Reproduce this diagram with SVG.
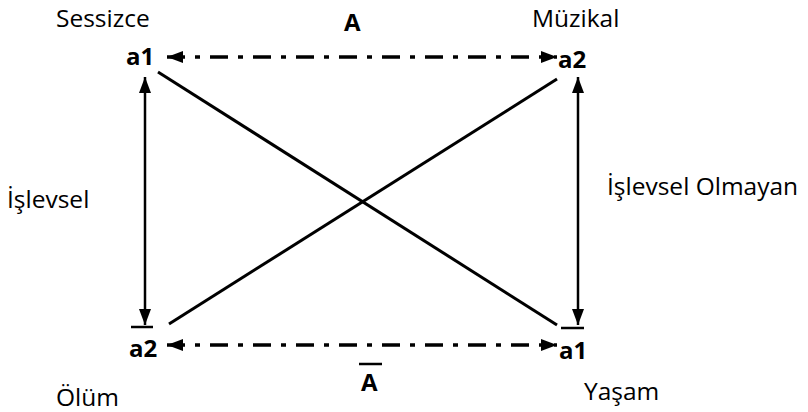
<svg xmlns="http://www.w3.org/2000/svg" width="808" height="412" viewBox="0 0 808 412">
<defs>
<marker id="ah" viewBox="0 0 16 12" refX="16" refY="6" markerWidth="16" markerHeight="12" markerUnits="userSpaceOnUse" orient="auto-start-reverse">
<path d="M0,0 L16,6 L0,12 Z" fill="#000"/>
</marker>
</defs>
<style>
.lbl{font-family:"Open Sans","Liberation Sans",sans-serif;font-size:24.5px;fill:#000}
.b{font-family:"Open Sans","Liberation Sans",sans-serif;font-size:24px;font-weight:bold;fill:#000}
.dd{stroke:#000;stroke-width:3.5;fill:none;stroke-dasharray:18 10 5 10}
.v{stroke:#000;stroke-width:2.5;fill:none}
.d{stroke:#000;stroke-width:3;fill:none}
.bar{stroke:#000;stroke-width:2.5}
</style>
<rect width="808" height="412" fill="#fff"/>
<g id="connectors">
<line class="dd" x1="167" y1="57" x2="557" y2="57" marker-start="url(#ah)" marker-end="url(#ah)"/>
<line class="dd" x1="167" y1="345" x2="557" y2="345" marker-start="url(#ah)" marker-end="url(#ah)"/>
<line class="v" x1="145" y1="77" x2="145" y2="325" marker-start="url(#ah)" marker-end="url(#ah)"/>
<line class="v" x1="578" y1="77" x2="578" y2="325" marker-start="url(#ah)" marker-end="url(#ah)"/>
<line class="d" x1="158" y1="72" x2="557" y2="325"/>
<line class="d" x1="557" y1="79" x2="169" y2="324"/>
</g>
<g id="node-a1-top">
<text class="lbl" x="56" y="27">Sessizce</text>
<text class="b" x="126" y="65">a1</text>
</g>
<g id="node-a2-top">
<text class="lbl" x="532" y="27">Müzikal</text>
<text class="b" x="558" y="68">a2</text>
</g>
<g id="node-a2-bottom">
<line class="bar" x1="131" y1="327" x2="153" y2="327"/>
<text class="b" x="129" y="357">a2</text>
<text class="lbl" x="56" y="406">Ölüm</text>
</g>
<g id="node-a1-bottom">
<line class="bar" x1="561" y1="328" x2="584" y2="328"/>
<text class="b" x="559" y="359">a1</text>
<text class="lbl" x="584" y="400">Yaşam</text>
</g>
<g id="label-A-top">
<text class="b" x="344" y="31">A</text>
</g>
<g id="label-A-bottom">
<line class="bar" x1="359" y1="364" x2="382" y2="364"/>
<text class="b" x="361" y="391">A</text>
</g>
<g id="label-islevsel">
<text class="lbl" x="7" y="208">İşlevsel</text>
</g>
<g id="label-islevsel-olmayan">
<text class="lbl" x="607" y="195">İşlevsel Olmayan</text>
</g>
</svg>
